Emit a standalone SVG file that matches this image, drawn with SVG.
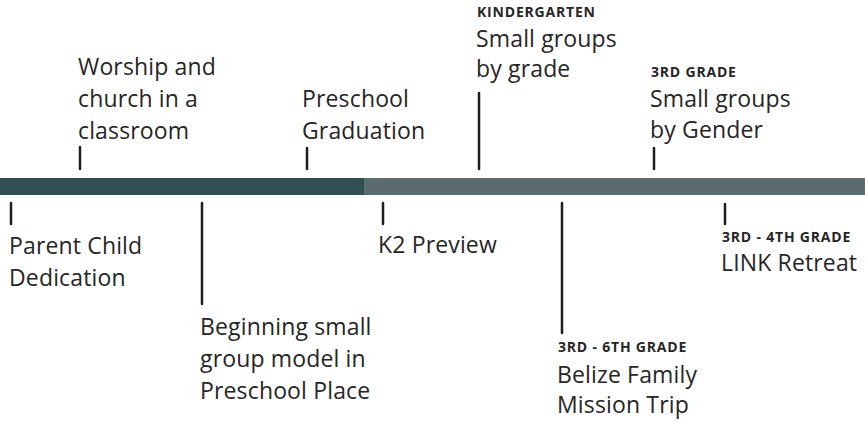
<svg xmlns="http://www.w3.org/2000/svg" width="865" height="422" viewBox="0 0 865 422">
<style>
.t{font-family:"Open Sans","Liberation Sans",sans-serif;font-size:23px;fill:#262626;letter-spacing:0.15px}
.b{font-family:"Open Sans","Liberation Sans",sans-serif;font-size:14px;font-weight:bold;fill:#262626;letter-spacing:0.8px}
.tick{stroke:#1e1e1e;stroke-width:2.5;stroke-linecap:round}
</style>
<rect width="865" height="422" fill="#ffffff"/>
<g id="timeline">
<rect x="0" y="178" width="364" height="17" fill="#2f4f51"/>
<rect x="364" y="178" width="501" height="17" fill="#5b6c6e"/>
</g>
<g id="connectors">
<line class="tick" x1="80" y1="147" x2="80" y2="169"/>
<line class="tick" x1="307" y1="148" x2="307" y2="169"/>
<line class="tick" x1="479" y1="93" x2="479" y2="169"/>
<line class="tick" x1="654" y1="148" x2="654" y2="169"/>
<line class="tick" x1="11" y1="203" x2="11" y2="224"/>
<line class="tick" x1="202" y1="203" x2="202" y2="304"/>
<line class="tick" x1="383" y1="203" x2="383" y2="224"/>
<line class="tick" x1="562" y1="203" x2="562" y2="333"/>
<line class="tick" x1="725" y1="204" x2="725" y2="224"/>
</g>
<g id="worship">
<text class="t" x="78" y="75">Worship and</text>
<text class="t" x="78" y="107">church in a</text>
<text class="t" x="78" y="139">classroom</text>
</g>
<g id="preschool-graduation">
<text class="t" x="302" y="107">Preschool</text>
<text class="t" x="302" y="139">Graduation</text>
</g>
<g id="kindergarten">
<text class="b" x="477" y="17">KINDERGARTEN</text>
<text class="t" x="476" y="47">Small groups</text>
<text class="t" x="476" y="77">by grade</text>
</g>
<g id="third-grade">
<text class="b" x="651" y="77">3RD GRADE</text>
<text class="t" x="650" y="107">Small groups</text>
<text class="t" x="650" y="138">by Gender</text>
</g>
<g id="parent-child">
<text class="t" x="9" y="254">Parent Child</text>
<text class="t" x="9" y="286">Dedication</text>
</g>
<g id="beginning">
<text class="t" x="200" y="335">Beginning small</text>
<text class="t" x="200" y="367">group model in</text>
<text class="t" x="200" y="399">Preschool Place</text>
</g>
<g id="k2-preview">
<text class="t" x="378" y="253">K2 Preview</text>
</g>
<g id="belize">
<text class="b" x="558" y="352">3RD - 6TH GRADE</text>
<text class="t" x="557" y="383">Belize Family</text>
<text class="t" x="557" y="413">Mission Trip</text>
</g>
<g id="link">
<text class="b" x="722" y="242">3RD - 4TH GRADE</text>
<text class="t" x="721" y="271">LINK Retreat</text>
</g>
</svg>
